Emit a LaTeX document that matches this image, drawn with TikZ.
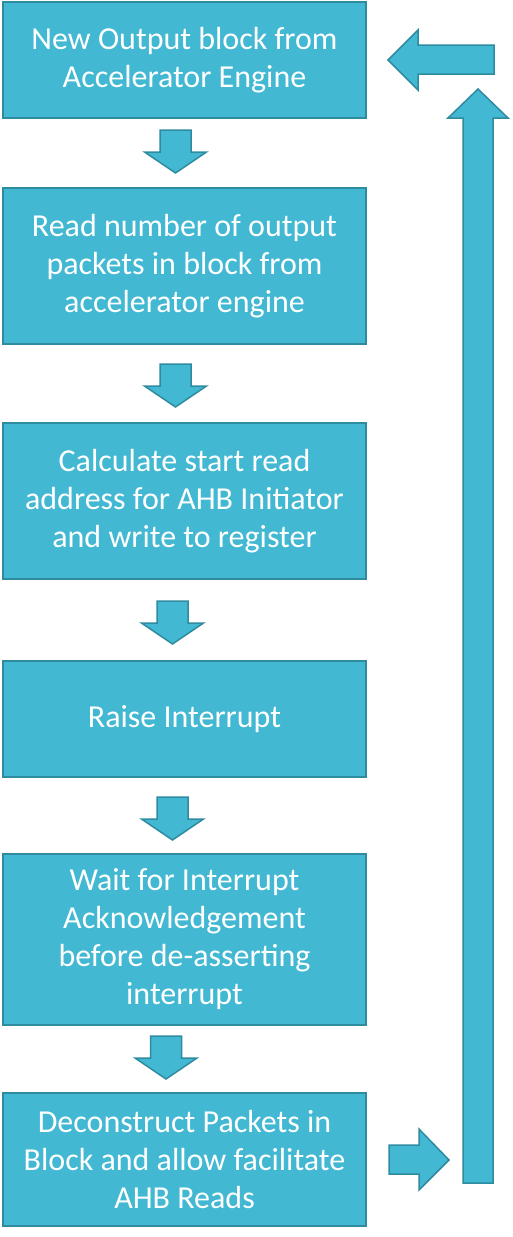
\documentclass[tikz,border=0pt]{standalone}
\usepackage{fontspec}
\setmainfont{Carlito}
\usetikzlibrary{positioning}
\definecolor{boxfill}{RGB}{66,184,211}
\definecolor{boxline}{RGB}{46,139,160}
\tikzset{
	stepbox/.style={draw=boxline, fill=boxfill, line width=1.5pt, text=white, align=center, minimum width=363pt, inner sep=0pt, outer sep=0pt, font=\fontsize{32}{38}\selectfont},
	blk/.style={draw=boxline, fill=boxfill, line width=1.5pt, line join=miter},
	dnarrow/.pic={\draw[blk] (-15.5,0) -- (15.5,0) -- (15.5,-22) -- (31,-22) -- (0,-43) -- (-31,-22) -- (-15.5,-22) -- cycle;}
}
\begin{document}
\begin{tikzpicture}[x=1pt, y=1pt]
	\useasboundingbox (0,0) rectangle (512,-1237);
	
	\node (new) at (184.5,-60) [stepbox, minimum height=116pt] {New Output block from\\Accelerator Engine};
	\node (count) [stepbox, minimum height=156pt, below=70pt of new] {Read number of output\\packets in block from\\accelerator engine};
	\node (addr) [stepbox, minimum height=156pt, below=79pt of count] {Calculate start read\\address for AHB Initiator\\and write to register};
	\node (irq) [stepbox, minimum height=116pt, below=82pt of addr] {Raise Interrupt};
	\node (ack) [stepbox, minimum height=171pt, below=77pt of irq] {Wait for Interrupt\\Acknowledgement\\before de-asserting\\interrupt};
	\node (deconstruct) [stepbox, minimum height=133pt, below=68pt of ack] {Deconstruct Packets in\\Block and allow facilitate\\AHB Reads};
	
	\pic at (175.5,-130) {dnarrow};
	\pic at (175.5,-364) {dnarrow};
	\pic at (172.5,-601) {dnarrow};
	\pic at (172.5,-797) {dnarrow};
	\pic at (166,-1036) {dnarrow};
	
	% loop back to the top
	\draw [blk] (389,-1145) -- (419,-1145) -- (419,-1129) -- (449,-1160) -- (419,-1190) -- (419,-1174) -- (389,-1174) -- cycle;
	\draw [blk] (463,-1183) -- (463,-118) -- (448,-118) -- (478,-89) -- (508,-118) -- (493,-118) -- (493,-1183) -- cycle;
	\draw [blk] (494,-45) -- (418,-45) -- (418,-30) -- (388,-60) -- (418,-90) -- (418,-74) -- (494,-74) -- cycle;
\end{tikzpicture}
\end{document}
